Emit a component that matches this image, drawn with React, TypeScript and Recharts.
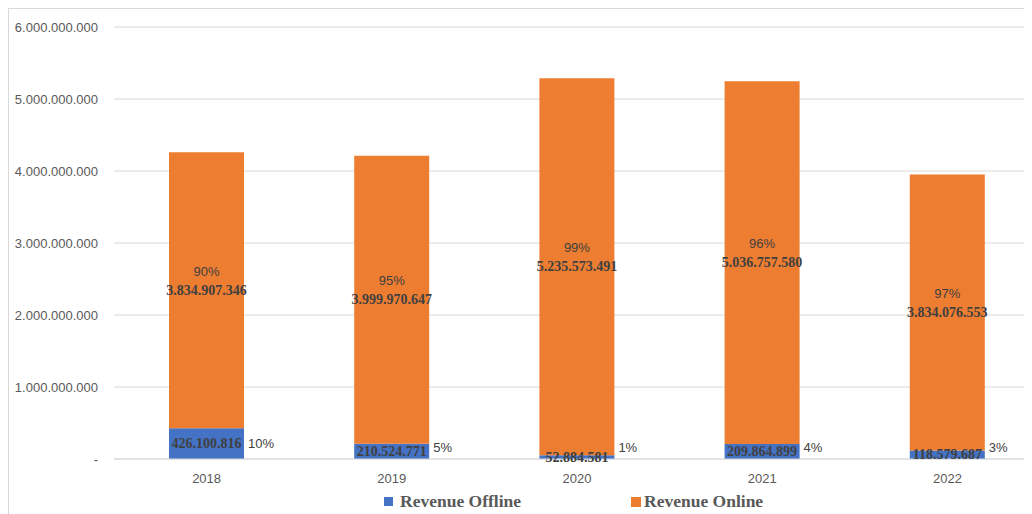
import { BarChart, Bar, XAxis, YAxis, CartesianGrid, Legend, LabelList } from 'recharts';

const years = ['2018', '2019', '2020', '2021', '2022'];
const offline = [426100816, 210524771, 52884581, 209864899, 118579687];
const online = [3834907346, 3999970647, 5235573491, 5036757580, 3834076553];
const offlinePct = ['10%', '5%', '1%', '4%', '3%'];
const onlinePct = ['90%', '95%', '99%', '96%', '97%'];
const yTicks = [0, 1000000000, 2000000000, 3000000000, 4000000000, 5000000000, 6000000000];

const data = years.map((year, i) => ({ year, offline: offline[i], online: online[i] }));

const BLUE = '#4472C4';
const ORANGE = '#ED7D31';
const serif = '"Liberation Serif", "Times New Roman", serif';
const sans = '"Liberation Sans", Arial, sans-serif';

const fmt = (v: number) => (v === 0 ? '-' : String(v).replace(/\B(?=(\d{3})+(?!\d))/g, '.'));

const OfflineLabel = (props: any) => {
  const { x, y, width, height, index } = props;
  const cx = x + width / 2;
  const cy = y + height / 2;
  // keep the percent text above the axis line when the bar is thin
  const py = Math.min(cy, 438);
  return (
    <g>
      <text x={cx} y={cy} textAnchor="middle" dominantBaseline="central" fontFamily={serif} fontWeight="bold" fontSize={14} fill="#404040">
        {fmt(offline[index])}
      </text>
      <text x={x + width + 4} y={py} textAnchor="start" dominantBaseline="central" fontFamily={sans} fontSize={13} fill="#404040">
        {offlinePct[index]}
      </text>
    </g>
  );
};

const OnlineLabel = (props: any) => {
  const { x, y, width, height, index } = props;
  const cx = x + width / 2;
  const cy = y + height / 2;
  return (
    <g>
      <text x={cx} y={cy - 19} textAnchor="middle" dominantBaseline="central" fontFamily={sans} fontSize={13} fill="#404040">
        {onlinePct[index]}
      </text>
      <text x={cx} y={cy} textAnchor="middle" dominantBaseline="central" fontFamily={serif} fontWeight="bold" fontSize={14} fill="#404040">
        {fmt(online[index])}
      </text>
    </g>
  );
};

const LegendContent = () => (
  <div style={{ display: 'flex', alignItems: 'center', marginTop: 2, fontFamily: serif, fontWeight: 'bold', fontSize: 17.5, color: '#595959' }}>
    <span style={{ width: 9, height: 9, background: BLUE, display: 'inline-block', marginRight: 7 }} />
    <span style={{ marginRight: 110 }}>Revenue Offline</span>
    <span style={{ width: 10, height: 10, background: ORANGE, display: 'inline-block', marginRight: 3 }} />
    <span>Revenue Online</span>
  </div>
);

export default function App() {
  return (
    <div style={{ width: 1024, height: 506, overflow: 'hidden', borderLeft: '1px solid #d9d9d9', borderTop: '1px solid #d9d9d9', boxSizing: 'border-box' }}>
      <BarChart width={1045} height={510} data={data} margin={{ top: 18, right: 14, bottom: 0, left: 0 }} barSize={75}>
        <CartesianGrid vertical={false} stroke="#d9d9d9" />
        <XAxis
          dataKey="year"
          height={30}
          tickLine={false}
          tickSize={0}
          tickMargin={15}
          axisLine={{ stroke: '#d9d9d9' }}
          tick={{ fontFamily: sans, fontSize: 13, fill: '#595959' }}
        />
        <YAxis
          width={105}
          domain={[0, 6000000000]}
          ticks={yTicks}
          tickFormatter={fmt}
          axisLine={false}
          tickLine={false}
          tickSize={0}
          tickMargin={16}
          tick={{ fontFamily: sans, fontSize: 13, fill: '#595959' }}
        />
        <Legend
          verticalAlign="bottom"
          content={<LegendContent />}
          wrapperStyle={{ height: 30, left: 375, width: 'auto', boxSizing: 'border-box' }}
        />
        <Bar dataKey="offline" stackId="a" fill={BLUE} isAnimationActive={false}>
          <LabelList content={<OfflineLabel />} />
        </Bar>
        <Bar dataKey="online" stackId="a" fill={ORANGE} isAnimationActive={false}>
          <LabelList content={<OnlineLabel />} />
        </Bar>
      </BarChart>
    </div>
  );
}
